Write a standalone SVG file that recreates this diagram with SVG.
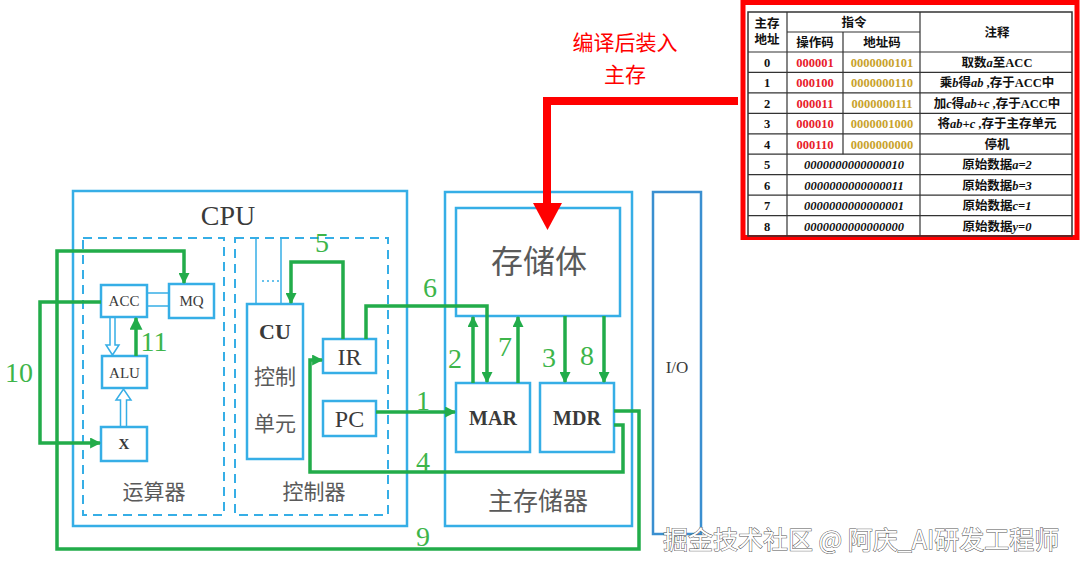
<svg xmlns="http://www.w3.org/2000/svg" width="1080" height="571" viewBox="0 0 1080 571">
<defs>
<style>
.bx{fill:none;stroke:#36aee6;stroke-width:2.5}
.dash{fill:none;stroke:#36aee6;stroke-width:2;stroke-dasharray:9 6}
.thin{fill:none;stroke:#36aee6;stroke-width:1.5}
.g{fill:none;stroke:#22ac4a;stroke-width:3.5;stroke-linejoin:miter}
.lbl{font-family:"Liberation Serif",serif;font-size:28px;fill:#3db54a;text-anchor:middle}
.t{font-family:"Liberation Serif",serif;fill:#3a3a3a;text-anchor:middle}
.cn{font-family:"Noto Sans CJK SC",sans-serif;fill:#5a5a5a;text-anchor:middle}
.tb{font-family:"Liberation Serif","Noto Sans CJK SC",serif;font-size:12.5px;font-weight:bold;fill:#111;text-anchor:middle}
.op{fill:#e8202a}
.ad{fill:#c9a22c}
.tl{stroke:#333;stroke-width:1.2}
.red{font-family:"Noto Sans CJK SC",sans-serif;font-size:21px;fill:#f00;text-anchor:middle}
</style>
<marker id="ga" viewBox="0 0 10 10" refX="9" refY="5" markerWidth="11" markerHeight="11" markerUnits="userSpaceOnUse" orient="auto"><path d="M0,0 L10,5 L0,10 z" fill="#22ac4a"/></marker>
<marker id="gb" viewBox="0 0 10 10" refX="9" refY="5" markerWidth="13" markerHeight="13" markerUnits="userSpaceOnUse" orient="auto"><path d="M0,0 L10,5 L0,10 z" fill="#22ac4a"/></marker>
</defs>
<rect width="1080" height="571" fill="#fff"/>

<g id="cpu">
<rect class="bx" x="73" y="191" width="334" height="335"/>
<text class="t" x="228" y="225" font-size="28" fill="#222">CPU</text>
</g>
<g id="alu-unit">
<rect class="dash" x="83" y="238" width="141" height="277"/>
<text class="cn" x="154" y="499" font-size="21">运算器</text>
</g>
<g id="ctrl-unit">
<rect class="dash" x="235" y="238" width="153" height="277"/>
<text class="cn" x="314" y="499" font-size="21">控制器</text>
</g>
<g id="acc">
<rect class="bx" x="101" y="285" width="46" height="32"/>
<text class="t" x="124" y="306" font-size="15">ACC</text>
</g>
<g id="mq">
<rect class="bx" x="169" y="284" width="45" height="34"/>
<text class="t" x="191.5" y="306" font-size="15">MQ</text>
</g>
<g id="alu">
<rect class="bx" x="102" y="356" width="45" height="32"/>
<text class="t" x="124.5" y="378" font-size="15">ALU</text>
</g>
<g id="x">
<rect class="bx" x="101" y="427" width="46" height="34"/>
<text class="t" x="124" y="449" font-size="15" font-weight="bold">X</text>
</g>
<g id="cu">
<rect class="bx" x="247" y="304" width="56" height="155"/>
<text class="t" x="275" y="339" font-size="22" font-weight="bold">CU</text>
<text class="cn" x="275" y="384" font-size="21">控制</text>
<text class="cn" x="275" y="431" font-size="21">单元</text>
</g>
<g id="ir">
<rect class="bx" x="323" y="339" width="53" height="34"/>
<text class="t" x="349.5" y="365" font-size="24">IR</text>
</g>
<g id="pc">
<rect class="bx" x="323" y="401" width="53" height="35"/>
<text class="t" x="349.5" y="427" font-size="24">PC</text>
</g>
<g id="mainmem">
<rect class="bx" x="445" y="192" width="187" height="334"/>
<text class="cn" x="538" y="510" font-size="25">主存储器</text>
</g>
<g id="storage">
<rect class="bx" x="456" y="208" width="164" height="108"/>
<text class="cn" x="539" y="273" font-size="32">存储体</text>
</g>
<g id="mar">
<rect class="bx" x="456" y="383" width="74" height="69"/>
<text class="t" x="493" y="425" font-size="20" font-weight="bold">MAR</text>
</g>
<g id="mdr">
<rect class="bx" x="540" y="383" width="74" height="69"/>
<text class="t" x="577" y="425" font-size="20" font-weight="bold">MDR</text>
</g>
<g id="io">
<rect x="653" y="192" width="48" height="342" fill="none" stroke="#3a8fd0" stroke-width="2.5"/>
<text class="t" x="677" y="373" font-size="17" fill="#555">I/O</text>
</g>

<g id="connectors">
<line class="thin" x1="147" y1="293" x2="169" y2="293"/>
<line class="thin" x1="147" y1="306" x2="169" y2="306"/>
<path class="thin" fill="#fff" d="M110,318 L110,345 L106,345 L112.5,355 L119,345 L115,345 L115,318"/>
<path class="thin" fill="#fff" d="M120.5,427 L120.5,400 L116,400 L123.5,389 L131,400 L126.5,400 L126.5,427"/>
<line class="thin" x1="256" y1="238" x2="256" y2="304"/>
<line class="thin" x1="281" y1="238" x2="281" y2="304"/>
<line x1="262" y1="281" x2="279" y2="281" stroke="#36aee6" stroke-width="1.5" stroke-dasharray="2 3"/>
<path class="g" d="M614,411 H639 V549 H57 V251 H184 V283" marker-end="url(#ga)"/>
<path class="g" d="M101,302 H40 V443 H100" marker-end="url(#ga)"/>
<line class="g" x1="136" y1="356" x2="136" y2="318" stroke-width="5" marker-end="url(#gb)"/>
<path class="g" d="M343,339 V262 H291 V303" marker-end="url(#ga)"/>
<path class="g" d="M366,339 V306 H487 V382" marker-end="url(#ga)"/>
<path class="g" d="M376,412 H455" marker-end="url(#ga)"/>
<path class="g" d="M614,425 H623 V472 H310 V360 H322" marker-end="url(#ga)"/>
<line class="g" x1="473" y1="383" x2="473" y2="317" marker-end="url(#ga)"/>
<line class="g" x1="518" y1="383" x2="518" y2="317" marker-end="url(#ga)"/>
<line class="g" x1="565" y1="316" x2="565" y2="382" marker-end="url(#ga)"/>
<line class="g" x1="604" y1="316" x2="604" y2="382" marker-end="url(#ga)"/>
<path d="M738,101 H547 V206" fill="none" stroke="#f00" stroke-width="8"/>
<polygon points="533,203 562,203 547.5,230" fill="#f00"/>
<text class="lbl" x="19" y="382">10</text>
<text class="lbl" x="154" y="351">11</text>
<text class="lbl" x="322" y="252">5</text>
<text class="lbl" x="430" y="297">6</text>
<text class="lbl" x="423" y="410">1</text>
<text class="lbl" x="423" y="471">4</text>
<text class="lbl" x="423" y="546">9</text>
<text class="lbl" x="455" y="368">2</text>
<text class="lbl" x="505" y="356">7</text>
<text class="lbl" x="549" y="367">3</text>
<text class="lbl" x="587" y="365">8</text>
</g>

<g id="note">
<text class="red" x="625" y="50">编译后装入</text>
<text class="red" x="625" y="82">主存</text>
</g>

<g id="table">
<rect x="743" y="2.5" width="334" height="235" fill="#fff" stroke="#f00" stroke-width="5"/>
<rect x="748" y="12" width="324" height="224" fill="none" stroke="#333" stroke-width="1.5"/>
<line class="tl" x1="787" y1="12" x2="787" y2="236"/>
<line class="tl" x1="920" y1="12" x2="920" y2="236"/>
<line class="tl" x1="843" y1="32" x2="843" y2="154.2"/>
<line class="tl" x1="787" y1="32" x2="920" y2="32"/>
<line class="tl" x1="748" y1="52" x2="1072" y2="52"/>
<line class="tl" x1="748" y1="72.4" x2="1072" y2="72.4"/>
<line class="tl" x1="748" y1="92.9" x2="1072" y2="92.9"/>
<line class="tl" x1="748" y1="113.3" x2="1072" y2="113.3"/>
<line class="tl" x1="748" y1="133.8" x2="1072" y2="133.8"/>
<line class="tl" x1="748" y1="154.2" x2="1072" y2="154.2"/>
<line class="tl" x1="748" y1="174.7" x2="1072" y2="174.7"/>
<line class="tl" x1="748" y1="195.1" x2="1072" y2="195.1"/>
<line class="tl" x1="748" y1="215.6" x2="1072" y2="215.6"/>
<text class="tb" x="767" y="28">主存</text>
<text class="tb" x="767" y="44">地址</text>
<text class="tb" x="854" y="27">指令</text>
<text class="tb" x="815" y="47">操作码</text>
<text class="tb" x="882" y="47">地址码</text>
<text class="tb" x="997" y="37">注释</text>

<text class="tb" x="767" y="67">0</text>
<text class="tb op" x="815" y="67">000001</text>
<text class="tb ad" x="882" y="67">0000000101</text>
<text class="tb" x="997" y="67">取数<tspan font-style="italic">a</tspan>至ACC</text>

<text class="tb" x="767" y="87.4">1</text>
<text class="tb op" x="815" y="87.4">000100</text>
<text class="tb ad" x="882" y="87.4">0000000110</text>
<text class="tb" x="997" y="87.4">乘<tspan font-style="italic">b</tspan>得<tspan font-style="italic">ab</tspan> ,存于ACC中</text>

<text class="tb" x="767" y="107.8">2</text>
<text class="tb op" x="815" y="107.8">000011</text>
<text class="tb ad" x="882" y="107.8">0000000111</text>
<text class="tb" x="997" y="107.8">加<tspan font-style="italic">c</tspan>得<tspan font-style="italic">ab+c</tspan> ,存于ACC中</text>

<text class="tb" x="767" y="128.3">3</text>
<text class="tb op" x="815" y="128.3">000010</text>
<text class="tb ad" x="882" y="128.3">0000001000</text>
<text class="tb" x="997" y="128.3">将<tspan font-style="italic">ab+c</tspan> ,存于主存单元</text>

<text class="tb" x="767" y="148.7">4</text>
<text class="tb op" x="815" y="148.7">000110</text>
<text class="tb ad" x="882" y="148.7">0000000000</text>
<text class="tb" x="997" y="148.7">停机</text>

<text class="tb" x="767" y="169.2">5</text>
<text class="tb" x="854" y="169.2" font-style="italic">0000000000000010</text>
<text class="tb" x="997" y="169.2">原始数据<tspan font-style="italic">a=2</tspan></text>

<text class="tb" x="767" y="189.6">6</text>
<text class="tb" x="854" y="189.6" font-style="italic">0000000000000011</text>
<text class="tb" x="997" y="189.6">原始数据<tspan font-style="italic">b=3</tspan></text>

<text class="tb" x="767" y="210.1">7</text>
<text class="tb" x="854" y="210.1" font-style="italic">0000000000000001</text>
<text class="tb" x="997" y="210.1">原始数据<tspan font-style="italic">c=1</tspan></text>

<text class="tb" x="767" y="230.5">8</text>
<text class="tb" x="854" y="230.5" font-style="italic">0000000000000000</text>
<text class="tb" x="997" y="230.5">原始数据<tspan font-style="italic">y=0</tspan></text>
</g>

<g id="watermark">
<text x="663" y="549" font-family="Noto Sans CJK SC,sans-serif" font-size="25" fill="#fff" stroke="#555" stroke-width="1" paint-order="stroke">掘金技术社区 @ 阿庆_AI研发工程师</text>
</g>
</svg>
